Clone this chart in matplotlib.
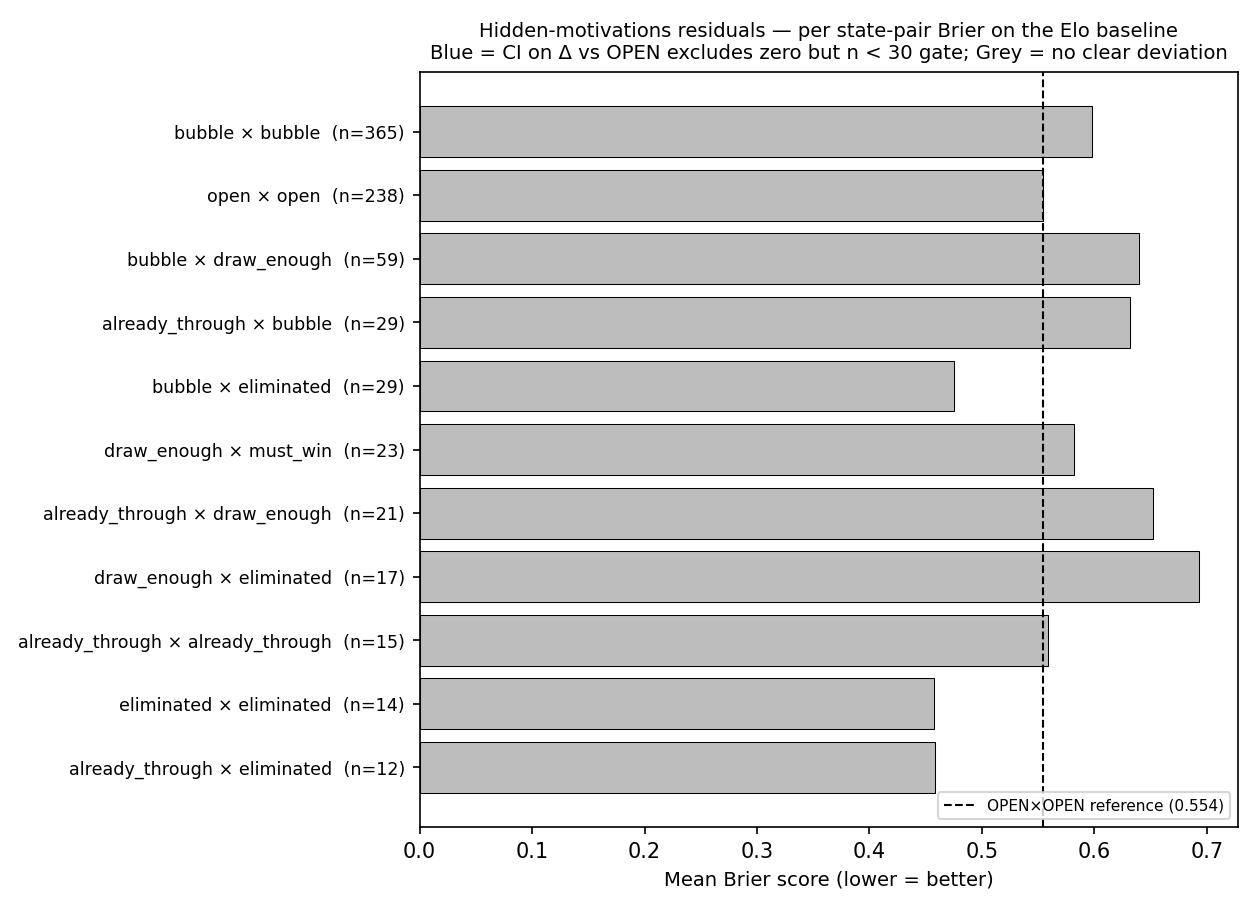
import numpy as np
import matplotlib.pyplot as plt

pairs = ['bubble × bubble', 'open × open', 'bubble × draw_enough',
         'already_through × bubble', 'bubble × eliminated',
         'draw_enough × must_win', 'already_through × draw_enough',
         'draw_enough × eliminated', 'already_through × already_through',
         'eliminated × eliminated', 'already_through × eliminated']
counts = [365, 238, 59, 29, 29, 23, 21, 17, 15, 14, 12]
brier = [0.598, 0.554, 0.640, 0.632, 0.475, 0.582, 0.652, 0.693, 0.559, 0.457, 0.458]
open_ref = 0.554


def main():
    fig, ax = plt.subplots(figsize=(8.4, 9.1 / 1.5), dpi=150)
    fig.subplots_adjust(left=0.333, right=0.9825, top=0.921, bottom=0.091)
    y = np.arange(len(pairs))
    ax.barh(y, brier, height=0.8, color='#bdbdbd', edgecolor='black', linewidth=0.5)
    ax.set_yticks(y)
    ax.set_yticklabels(['{}  (n={})'.format(p, n) for p, n in zip(pairs, counts)], fontsize=8.4)
    ax.invert_yaxis()
    ax.axvline(open_ref, color='black', linestyle='--', linewidth=1,
               label='OPEN×OPEN reference ({:.3f})'.format(open_ref))
    ax.set_xlabel('Mean Brier score (lower = better)', fontsize=9.4)
    ax.tick_params(axis='x', labelsize=10)
    ax.set_title('Hidden-motivations residuals — per state-pair Brier on the Elo baseline\n'
                 'Blue = CI on Δ vs OPEN excludes zero but n < 30 gate; Grey = no clear deviation',
                 fontsize=9.4)
    ax.legend(loc='lower right', fontsize=7.4)
    fig.savefig('out.png', dpi=150)


if __name__ == '__main__':
    main()
